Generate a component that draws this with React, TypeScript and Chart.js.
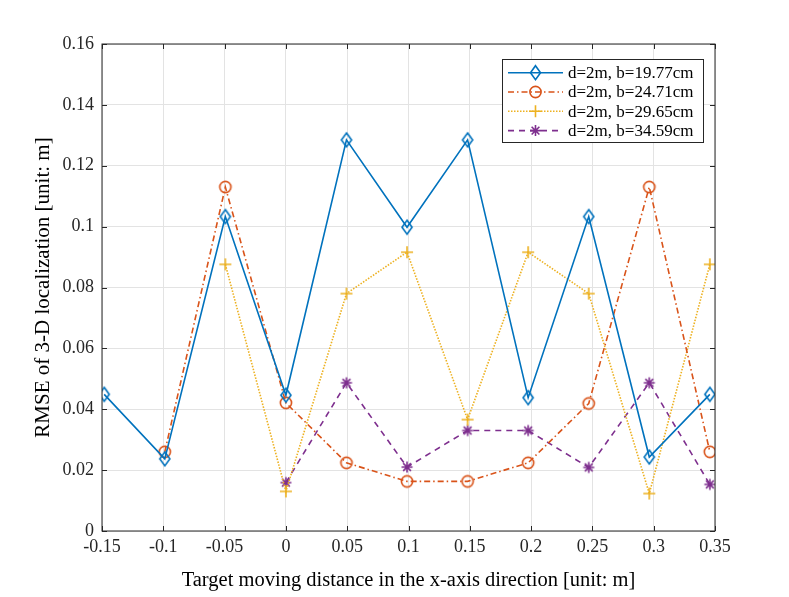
import React, { useEffect, useRef } from 'react';
import { Chart, registerables } from 'chart.js';

Chart.register(...registerables);

// x positions of the measurements (target moving distance, m)
const xValues = [-0.1482, -0.0988, -0.0494, 0, 0.0494, 0.0988, 0.1482, 0.1976, 0.247, 0.2964, 0.3458];

// RMSE values per baseline, null where there is no point
const rmseB1977 = [0.0449, 0.0237, 0.1033, 0.0446, 0.1285, 0.0998, 0.1285, 0.0438, 0.1033, 0.0243, 0.0449];
const rmseB2471 = [null, 0.026, 0.113, 0.0421, 0.0224, 0.0163, 0.0163, 0.0224, 0.0419, 0.113, 0.026];
const rmseB2965 = [null, null, 0.0876, 0.013, 0.078, 0.0916, 0.0366, 0.0916, 0.078, 0.0123, 0.0876];
const rmseB3459 = [null, null, null, 0.0159, 0.0487, 0.021, 0.033, 0.033, 0.0209, 0.0487, 0.0153];

const seriesNames = ['d=2m, b=19.77cm', 'd=2m, b=24.71cm', 'd=2m, b=29.65cm', 'd=2m, b=34.59cm'];

const xTickValues = [-0.15, -0.1, -0.05, 0, 0.05, 0.1, 0.15, 0.2, 0.25, 0.3, 0.35];
const xTickLabels = ['-0.15', '-0.1', '-0.05', '0', '0.05', '0.1', '0.15', '0.2', '0.25', '0.3', '0.35'];
const yTickValues = [0, 0.02, 0.04, 0.06, 0.08, 0.1, 0.12, 0.14, 0.16];
const yTickLabels = ['0', '0.02', '0.04', '0.06', '0.08', '0.1', '0.12', '0.14', '0.16'];

const FONT = '"Liberation Serif", "Times New Roman", serif';
const AXIS_COLOR = '#262626';

const styles = [
  { color: '#0072BD', dash: [] as number[], marker: 'diamond' },
  { color: '#D95319', dash: [6, 3, 1.5, 3], marker: 'circle' },
  { color: '#EDB120', dash: [1.5, 1.5], marker: 'plus' },
  { color: '#7E2F8E', dash: [6, 5], marker: 'star' },
];

const toPoints = (vals: (number | null)[]) =>
  xValues.map((x, i) => ({ x, y: vals[i] })).filter((p) => p.y !== null);

// draw a MATLAB-like marker
function drawMarker(ctx: CanvasRenderingContext2D, kind: string, x: number, y: number, color: string) {
  ctx.save();
  ctx.setLineDash([]);
  ctx.strokeStyle = color;
  ctx.lineWidth = 1.6;
  ctx.beginPath();
  if (kind === 'diamond') {
    const r = 7;
    ctx.moveTo(x, y - r);
    ctx.lineTo(x + r * 0.72, y);
    ctx.lineTo(x, y + r);
    ctx.lineTo(x - r * 0.72, y);
    ctx.closePath();
  } else if (kind === 'circle') {
    ctx.arc(x, y, 5.6, 0, Math.PI * 2);
  } else if (kind === 'plus') {
    const r = 6;
    ctx.moveTo(x - r, y);
    ctx.lineTo(x + r, y);
    ctx.moveTo(x, y - r);
    ctx.lineTo(x, y + r);
  } else {
    const r = 5.5;
    for (let k = 0; k < 4; k++) {
      const a = (k * Math.PI) / 4;
      ctx.moveTo(x - r * Math.cos(a), y - r * Math.sin(a));
      ctx.lineTo(x + r * Math.cos(a), y + r * Math.sin(a));
    }
  }
  ctx.stroke();
  ctx.restore();
}

// marker images used as the datasets' point styles
function makeMarker(kind: string, color: string) {
  const c = document.createElement('canvas');
  c.width = 18;
  c.height = 18;
  const ctx = c.getContext('2d');
  if (ctx) drawMarker(ctx, kind, 9, 9, color);
  return c;
}

const framePlugin = {
  id: 'matlabFrame',
  afterDatasetsDraw(chart: any) {
    const { ctx, chartArea: a, scales } = chart;
    const xs = scales.x;
    const ys = scales.y;
    ctx.save();
    ctx.strokeStyle = AXIS_COLOR;
    ctx.lineWidth = 1;
    ctx.setLineDash([]);
    ctx.strokeRect(a.left, a.top, a.right - a.left, a.bottom - a.top);
    const tl = 5;
    ctx.beginPath();
    xTickValues.forEach((v) => {
      const px = Math.round(xs.getPixelForValue(v)) + 0.5;
      ctx.moveTo(px, a.bottom);
      ctx.lineTo(px, a.bottom - tl);
      ctx.moveTo(px, a.top);
      ctx.lineTo(px, a.top + tl);
    });
    yTickValues.forEach((v) => {
      const py = Math.round(ys.getPixelForValue(v)) + 0.5;
      ctx.moveTo(a.left, py);
      ctx.lineTo(a.left + tl, py);
      ctx.moveTo(a.right, py);
      ctx.lineTo(a.right - tl, py);
    });
    ctx.stroke();
    ctx.restore();
  },
  afterDraw(chart: any) {
    const { ctx } = chart;
    const bx = 502.5, by = 59.5, bw = 201, bh = 83;
    ctx.save();
    ctx.fillStyle = '#ffffff';
    ctx.fillRect(bx, by, bw, bh);
    ctx.strokeStyle = AXIS_COLOR;
    ctx.lineWidth = 1;
    ctx.strokeRect(bx, by, bw, bh);
    ctx.font = `17px ${FONT}`;
    ctx.textBaseline = 'middle';
    styles.forEach((s, i) => {
      const cy = 72.7 + i * 19.3;
      ctx.save();
      ctx.strokeStyle = s.color;
      ctx.lineWidth = 1.6;
      ctx.setLineDash(s.dash);
      ctx.beginPath();
      ctx.moveTo(508, cy);
      ctx.lineTo(563, cy);
      ctx.stroke();
      ctx.restore();
      drawMarker(ctx, s.marker, 535.5, cy, s.color);
      ctx.fillStyle = '#000000';
      ctx.fillText(seriesNames[i], 568, cy + 1);
    });
    ctx.restore();
  },
};

const App: React.FC = () => {
  const canvasRef = useRef<HTMLCanvasElement>(null);
  const chartRef = useRef<Chart | null>(null);

  useEffect(() => {
    if (!canvasRef.current) return;
    if (chartRef.current) chartRef.current.destroy();

    const seriesValues = [rmseB1977, rmseB2471, rmseB2965, rmseB3459];

    chartRef.current = new Chart(canvasRef.current, {
      type: 'line',
      data: {
        datasets: seriesValues.map((vals, i) => ({
          label: seriesNames[i],
          data: toPoints(vals) as any,
          borderColor: styles[i].color,
          borderWidth: 1.6,
          borderDash: styles[i].dash,
          fill: false,
          tension: 0,
          pointStyle: makeMarker(styles[i].marker, styles[i].color) as any,
          pointRadius: 7,
          pointHoverRadius: 7,
        })),
      },
      options: {
        animation: false,
        responsive: true,
        maintainAspectRatio: false,
        layout: { padding: { left: 0, right: 74, top: 44, bottom: 0 } },
        plugins: {
          legend: { display: false },
          tooltip: { enabled: false },
        },
        scales: {
          x: {
            type: 'linear',
            min: -0.15,
            max: 0.35,
            afterBuildTicks: (scale: any) => {
              scale.ticks = xTickValues.map((v) => ({ value: v }));
            },
            afterFit: (scale: any) => {
              scale.height = 66;
            },
            grid: { color: '#e3e3e3', drawTicks: false },
            border: { display: false },
            ticks: {
              color: '#262626',
              padding: 5,
              font: { family: FONT, size: 18 },
              callback: (_v: any, i: number) => xTickLabels[i],
            },
            title: {
              display: true,
              text: 'Target moving distance in the x-axis direction [unit: m]',
              color: '#000',
              font: { family: FONT, size: 20.5 },
              padding: { top: 5 },
            },
          },
          y: {
            type: 'linear',
            min: 0,
            max: 0.16,
            afterBuildTicks: (scale: any) => {
              scale.ticks = yTickValues.map((v) => ({ value: v }));
            },
            afterFit: (scale: any) => {
              scale.width = 102;
            },
            grid: { color: '#e3e3e3', drawTicks: false },
            border: { display: false },
            ticks: {
              color: '#262626',
              padding: 8,
              font: { family: FONT, size: 18 },
              callback: (_v: any, i: number) => yTickLabels[i],
            },
            title: {
              display: true,
              text: 'RMSE of 3-D localization [unit: m]',
              color: '#000',
              font: { family: FONT, size: 21 },
              padding: { top: 31, bottom: 0 },
            },
          },
        },
      },
      plugins: [framePlugin],
    });

    return () => {
      if (chartRef.current) {
        chartRef.current.destroy();
        chartRef.current = null;
      }
    };
  }, []);

  return (
    <div style={{ position: 'fixed', left: 0, top: 0, width: 789, height: 597, background: '#fff' }}>
      <canvas ref={canvasRef} />
    </div>
  );
};

export default App;
